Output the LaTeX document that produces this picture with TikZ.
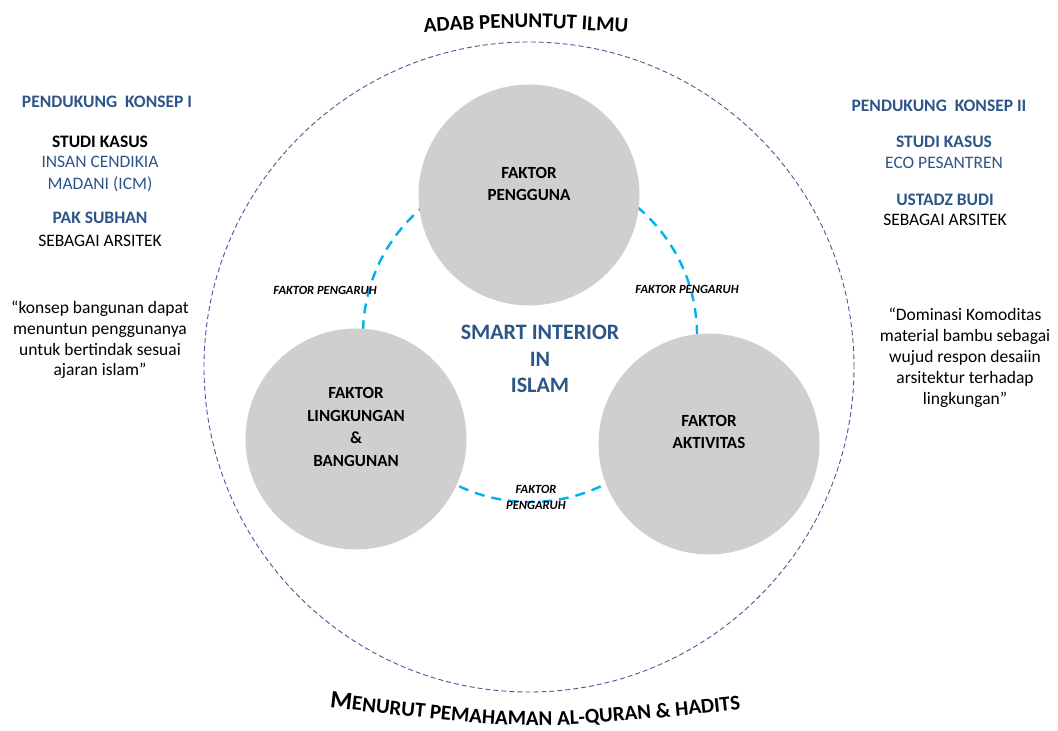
\documentclass[tikz,border=0pt]{standalone}
\usepackage{fontspec}
\setmainfont{Carlito}
\usetikzlibrary{decorations.text}

\definecolor{circlegray}{RGB}{208,206,206}
\definecolor{ringblue}{RGB}{0,176,240}
\definecolor{textblue}{RGB}{44,85,136}
\definecolor{outerblue}{RGB}{68,90,150}

\tikzset{
  faktor/.style={circle, fill=circlegray, minimum size=221pt, inner sep=0pt},
  faktorlabel/.style={font=\bfseries\fontsize{17}{22.5}\selectfont, align=center, inner sep=0pt},
  pengaruh/.style={font=\bfseries\itshape\fontsize{12.5}{16}\selectfont, align=center, inner sep=0pt},
  sidebold/.style={font=\bfseries\fontsize{17.5}{21}\selectfont, align=center, inner sep=0pt},
  sidetext/.style={font=\fontsize{17.5}{21.5}\selectfont, align=center, inner sep=0pt},
}

\begin{document}
\begin{tikzpicture}[x=1pt,y=-1pt]
      \useasboundingbox (0,0) rectangle (1058,731);

      % outer ring and titles
      \node (outer) [circle, draw=outerblue, dash pattern=on 5pt off 3pt, line width=0.9pt, minimum size=650pt] at (529,367) {};
      \path [decorate, decoration={text along path, text align=center,
        text={|\bfseries\fontsize{21}{25}\selectfont|ADAB PENUNTUT ILMU}}]
        (418,33) .. controls (526,26) .. (634,33);
      \path [decorate, decoration={text along path, text align=center,
        text={|\bfseries\fontsize{25}{28}\selectfont|M|\bfseries\fontsize{21}{25}\selectfont|ENURUT PEMAHAMAN AL-QURAN {\&} HADITS}}]
        (326,707) .. controls (535,731) .. (744,709);

      % dashed ring behind the three factors
      \node (ring) [circle, draw=ringblue, dash pattern=on 10pt off 7pt, line width=2.4pt, minimum size=334pt] at (530,335) {};

      \node (pengguna) [faktor] at (529,195) {};
      \node (lingkungan) [faktor] at (356,439) {};
      \node (aktivitas) [faktor] at (709,444) {};

      \node (penggunatext) [faktorlabel] at (529,184) {FAKTOR\\PENGGUNA};
      \node (lingkungantext) [faktorlabel] at (356,427) {FAKTOR\\LINGKUNGAN\\\&\\BANGUNAN};
      \node (aktivitastext) [faktorlabel] at (709,432) {FAKTOR\\AKTIVITAS};

      \node (smart) [font=\bfseries\fontsize{22}{26.5}\selectfont, text=textblue, align=center, inner sep=0pt] at (540,359) {SMART INTERIOR\\IN\\ISLAM};

      \node (pengaruhA) [pengaruh] at (325,290) {FAKTOR PENGARUH};
      \node (pengaruhB) [pengaruh] at (687,289) {FAKTOR PENGARUH};
      \node (pengaruhC) [pengaruh] at (536,497) {FAKTOR\\PENGARUH};

      % left column
      \node (konsepA) [sidebold, text=textblue] at (107,102) {PENDUKUNG\ \ KONSEP I};
      \node (kasusA) [sidebold] at (100,142) {STUDI KASUS};
      \node (icm) [sidetext, text=textblue] at (100,174) {INSAN CENDIKIA\\MADANI (ICM)};
      \node (subhan) [sidebold, text=textblue] at (100,218) {PAK SUBHAN};
      \node (arsitekA) [sidetext] at (100,241) {SEBAGAI ARSITEK};
      \node (quoteA) [sidetext, font=\fontsize{17.5}{20.7}\selectfont] at (100,340) {“konsep bangunan dapat\\menuntun penggunanya\\untuk bertindak sesuai\\ajaran islam”};

      % right column
      \node (konsepB) [sidebold, text=textblue] at (939,106) {PENDUKUNG\ \ KONSEP II};
      \node (kasusB) [sidebold, text=textblue] at (944,142) {STUDI KASUS};
      \node (pesantren) [sidetext, text=textblue] at (944,163) {ECO PESANTREN};
      \node (budi) [sidebold, text=textblue] at (945,200) {USTADZ BUDI};
      \node (arsitekB) [sidetext] at (945,220) {SEBAGAI ARSITEK};
      \node (quoteB) [sidetext, font=\fontsize{17.5}{21}\selectfont] at (965,358) {“Dominasi Komoditas\\material bambu sebagai\\wujud respon desaiin\\arsitektur terhadap\\lingkungan”};

    \end{tikzpicture}
\end{document}
